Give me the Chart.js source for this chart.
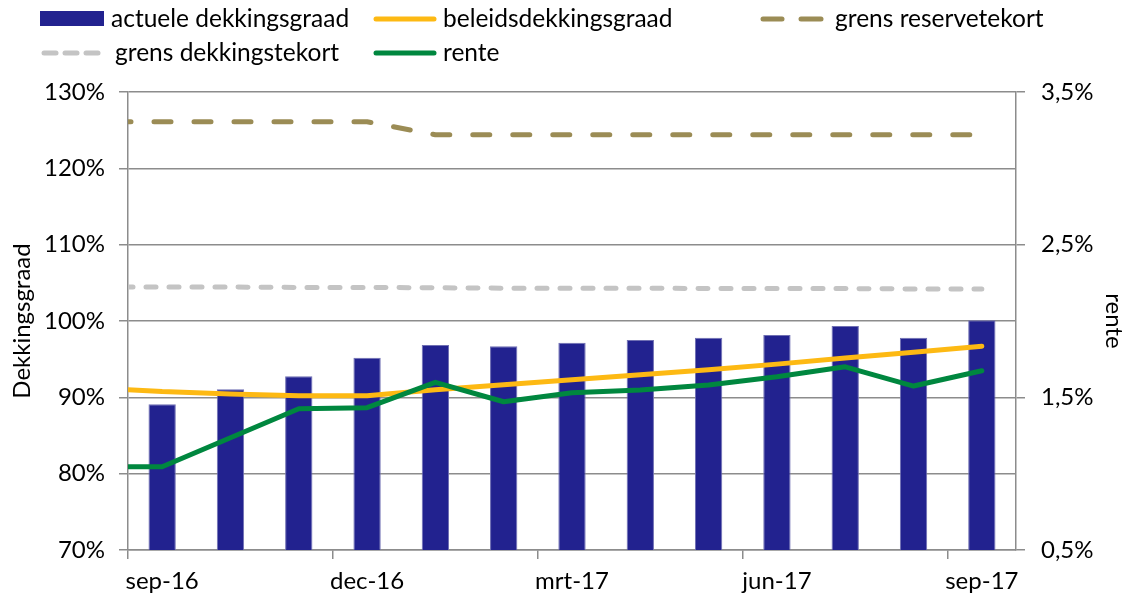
<!DOCTYPE html>
<html><head><meta charset="utf-8">
<script src="https://cdn.jsdelivr.net/npm/chart.js@4/dist/chart.umd.min.js"></script>
<style>
html,body{margin:0;padding:0;background:#fff;}
#wrap{position:relative;width:1132px;height:598px;overflow:hidden;}
canvas{position:absolute;left:0;top:0;}
.lt{position:absolute;font-family:Lato,sans-serif;font-size:24.5px;color:#000;white-space:nowrap;line-height:28px;}
.sw{position:absolute;}
</style></head><body>
<div id="wrap"><canvas id="c" width="1132" height="598"></canvas>
<div id="legend"></div></div>
<script>
// ---- data ----
const categories = ['sep-16','okt-16','nov-16','dec-16','jan-17','feb-17','mrt-17','apr-17','mei-17','jun-17','jul-17','aug-17','sep-17'];
const actueleDekkingsgraad = [89.1, 91.05, 92.75, 95.2, 96.85, 96.7, 97.15, 97.5, 97.8, 98.15, 99.35, 97.8, 100.1];
const beleidsdekkingsgraad = [90.75, 90.45, 90.2, 90.2, 91.0, 91.65, 92.3, 92.95, 93.6, 94.35, 95.15, 95.9, 96.7];
const grensReservetekort = [126.1, 126.1, 126.1, 126.1, 124.4, 124.4, 124.4, 124.4, 124.4, 124.4, 124.4, 124.4, 124.4];
const grensDekkingstekort = [104.45, 104.45, 104.4, 104.4, 104.35, 104.3, 104.3, 104.3, 104.25, 104.25, 104.25, 104.2, 104.2];
const rente = [1.045, 1.235, 1.425, 1.432, 1.598, 1.471, 1.53, 1.548, 1.581, 1.635, 1.70, 1.574, 1.674];
// values of the line series at the left edge of the plot (start of the lines)
const lineStartValues = {beleids: 91.0, reserve: 126.1, dekking: 104.45, rente: 1.045};
const leftTicks = [70, 80, 90, 100, 110, 120, 130];
const rightTicks = [0.5, 1.5, 2.5, 3.5];
const labelEvery = 3;

// ---- styles ----
const FONT = 'Lato';
const FS = 24;
const C_BAR = '#22228f', C_ORANGE = '#fdb913', C_GREEN = '#00873f', C_OLIVE = '#9b8c55', C_GREY = '#c4c4c4', C_AXIS = '#8c8c8c';

function linePoints(startVal, vals) {
  const pts = [{x: -0.5, y: startVal}];
  vals.forEach((v, i) => pts.push({x: i, y: v}));
  return pts;
}

const lineBase = {type: 'line', xAxisID: 'x2', pointRadius: 0, borderWidth: 5, borderCapStyle: 'round', borderJoinStyle: 'round', tension: 0, fill: false};

new Chart(document.getElementById('c'), {
  data: {
    labels: categories,
    datasets: [
      {type: 'bar', label: 'actuele dekkingsgraad', data: actueleDekkingsgraad, backgroundColor: C_BAR, borderColor: '#6f6fb3', borderWidth: 1,
       xAxisID: 'x', yAxisID: 'y', grouped: false, barPercentage: 0.4, categoryPercentage: 1.0, order: 10},
      Object.assign({}, lineBase, {label: 'grens reservetekort', data: linePoints(lineStartValues.reserve, grensReservetekort), borderColor: C_OLIVE, borderDash: [17, 23], borderDashOffset: 14, yAxisID: 'y', order: 5}),
      Object.assign({}, lineBase, {label: 'grens dekkingstekort', data: linePoints(lineStartValues.dekking, grensDekkingstekort), borderColor: C_GREY, borderDash: [10, 13], borderDashOffset: 5, yAxisID: 'y', order: 4}),
      Object.assign({}, lineBase, {label: 'beleidsdekkingsgraad', data: linePoints(lineStartValues.beleids, beleidsdekkingsgraad), borderColor: C_ORANGE, yAxisID: 'y', order: 3}),
      Object.assign({}, lineBase, {label: 'rente', data: linePoints(lineStartValues.rente, rente), borderColor: C_GREEN, yAxisID: 'y2', order: 2})
    ]
  },
  options: {
    responsive: false, animation: false, devicePixelRatio: 1,
    layout: {padding: {top: 92, left: 0, right: 0, bottom: 0}},
    plugins: {legend: {display: false}, tooltip: {enabled: false}},
    scales: {
      x: {
        type: 'category', offset: true, position: 'bottom',
        grid: {drawOnChartArea: false, drawTicks: true, tickLength: 9, lineWidth: 1.5, offset: true,
               color: ctx => (ctx.index !== undefined && ctx.index % labelEvery === 0) ? C_AXIS : 'rgba(0,0,0,0)'},
        border: {color: C_AXIS, width: 1.5},
        ticks: {autoSkip: false, maxRotation: 0, minRotation: 0, padding: 8, color: '#000',
                font: {family: FONT, size: FS},
                callback: (v, i) => i % labelEvery === 0 ? categories[i] : ''},
        afterFit: s => { s.height = 48; }
      },
      x2: {type: 'linear', display: false, min: -0.5, max: categories.length - 0.5},
      y: {
        position: 'left', min: 70, max: 130,
        afterBuildTicks: s => { s.ticks = leftTicks.map(v => ({value: v})); },
        grid: {color: C_AXIS, lineWidth: 1.5, tickLength: 9, drawTicks: true},
        border: {color: C_AXIS, width: 1.5},
        ticks: {color: '#000', padding: 14, font: {family: FONT, size: FS}, callback: v => v + '%'},
        title: {display: true, text: 'Dekkingsgraad', color: '#000', font: {family: FONT, size: FS}, padding: {top: 8, bottom: 0}},
        afterFit: s => { s.width = 128; }
      },
      y2: {
        position: 'right', min: 0.5, max: 3.5,
        afterBuildTicks: s => { s.ticks = rightTicks.map(v => ({value: v})); },
        grid: {drawOnChartArea: false, color: C_AXIS, lineWidth: 1.5, tickLength: 9, drawTicks: true},
        border: {color: C_AXIS, width: 1.5},
        ticks: {color: '#000', padding: 16, font: {family: FONT, size: FS}, callback: v => v.toFixed(1).replace('.', ',') + '%'},
        title: {display: true, text: 'rente', color: '#000', font: {family: FONT, size: FS}, padding: {top: 4, bottom: 0}},
        afterFit: s => { s.width = 116; }
      }
    }
  }
});

// ---- legend (HTML) ----
const legendItems = [
  {text: 'actuele dekkingsgraad', kind: 'rect', color: C_BAR, sx: 40, tx: 111, y: 19},
  {text: 'beleidsdekkingsgraad', kind: 'line', color: C_ORANGE, sx: 373, tx: 443, y: 19},
  {text: 'grens reservetekort', kind: 'dash2', color: C_OLIVE, sx: 760, tx: 835, y: 19},
  {text: 'grens dekkingstekort', kind: 'dash3', color: C_GREY, sx: 40, tx: 115, y: 53},
  {text: 'rente', kind: 'line', color: C_GREEN, sx: 373, tx: 443, y: 53}
];
const lg = document.getElementById('legend');
legendItems.forEach(it => {
  const svgNS = 'http://www.w3.org/2000/svg';
  const svg = document.createElementNS(svgNS, 'svg');
  svg.setAttribute('width', 66); svg.setAttribute('height', 20);
  svg.setAttribute('class', 'sw');
  svg.style.left = it.sx + 'px'; svg.style.top = (it.y - 10) + 'px';
  if (it.kind === 'rect') {
    const r = document.createElementNS(svgNS, 'rect');
    r.setAttribute('x', 0); r.setAttribute('y', 2); r.setAttribute('width', 64); r.setAttribute('height', 15);
    r.setAttribute('fill', it.color); svg.appendChild(r);
  } else {
    let segs;
    if (it.kind === 'line') segs = [[3, 61]];
    else if (it.kind === 'dash2') segs = [[3, 22], [41, 61]];
    else segs = [[4, 16], [25, 37], [46, 58]];
    segs.forEach(s => {
      const l = document.createElementNS(svgNS, 'line');
      l.setAttribute('x1', s[0]); l.setAttribute('x2', s[1]); l.setAttribute('y1', 10); l.setAttribute('y2', 10);
      l.setAttribute('stroke', it.color); l.setAttribute('stroke-width', 5); l.setAttribute('stroke-linecap', 'round');
      svg.appendChild(l);
    });
  }
  lg.appendChild(svg);
  const d = document.createElement('div');
  d.className = 'lt'; d.textContent = it.text;
  d.style.left = it.tx + 'px'; d.style.top = (it.y - 15) + 'px';
  lg.appendChild(d);
});
</script>
</body></html>
